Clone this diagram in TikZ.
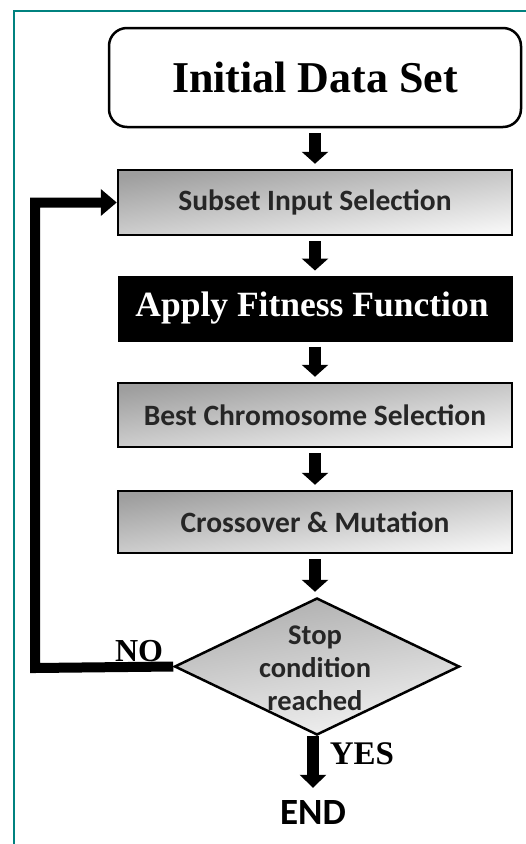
\documentclass[tikz,border=0pt]{standalone}
\usepackage{fontspec}
\setmainfont{Liberation Serif}
\newfontfamily\boxfont{Carlito}
\usetikzlibrary{arrows.meta,shapes.geometric}
\definecolor{frameteal}{HTML}{00827F}
\tikzset{
  flowbox/.style={draw=black, line width=2.5pt, minimum width=394pt, inner sep=0pt,
    top color=black!38, bottom color=black!4, shading angle=8,
    font=\boxfont\bfseries\fontsize{29.5}{33}\selectfont, text=black!85},
  fatarrow/.style={line width=12pt, -{Triangle[width=26pt,length=12pt]},
    shorten <=5pt, shorten >=5pt},
  looparrow/.style={line width=10pt, line join=miter, -{Triangle[width=26pt,length=16pt]}},
  serifbold/.style={font=\bfseries\fontsize{#1}{#1}\selectfont}
}
\begin{document}
\begin{tikzpicture}[x=1pt,y=-1pt]
\useasboundingbox (0,0) rectangle (526,844);
% frame
\draw[frameteal, line width=2pt] (13.5,850) -- (13.5,11) -- (530,11);
% nodes
\node[draw=black, line width=2.5pt, rounded corners=18pt, fill=white,
      minimum width=412pt, minimum height=99pt, inner sep=0pt,
      serifbold=44] (init) at (315,77.5) {Initial Data Set};
\node[flowbox, minimum height=65pt] (subset) at (315,202.5) {Subset Input Selection};
\node[draw=black, fill=black, line width=1pt, minimum width=394pt, minimum height=65pt,
      inner sep=0pt, text=white, serifbold=35.5] (fitness) at (315,308.5) {\hspace*{-6pt}Apply Fitness Function};
\node[flowbox, minimum height=64pt] (best) at (315,415) {Best Chromosome Selection};
\node[flowbox, minimum height=62pt] (cross) at (315,522) {Crossover \& Mutation};
\node[diamond, draw=black, line width=2.5pt, minimum width=285pt, minimum height=137pt,
      inner sep=0pt, top color=black!32, bottom color=black!5, shading angle=10] (stop) at (317,666.5) {};
\node[align=center, font=\boxfont\bfseries\fontsize{28.5}{33}\selectfont, text=black!85,
      inner sep=0pt] (stoptext) at (315,668) {Stop\\condition\\reached};
\node[font=\boxfont\bfseries\fontsize{37}{37}\selectfont, inner sep=0pt] (endn) at (313,812) {END};
\coordinate (loopcorner) at (35,668);
% connectors
\draw[fatarrow] (init) -- (subset);
\draw[fatarrow] (subset) -- (fitness);
\draw[fatarrow] (fitness) -- (best);
\draw[fatarrow] (best) -- (cross);
\draw[fatarrow] (cross.south) -- (cross.south |- stop.north);
\draw[line width=12pt, -{Triangle[width=26pt,length=13pt]}, shorten >=12pt]
  (stop.south -| endn.north) -- (endn.north);
\draw[looparrow] (stop.west) -- (loopcorner) |- (subset.west);
% labels
\node[serifbold=32, inner sep=0pt] (nolabel) at (139,651) {NO};
\node[serifbold=33, inner sep=0pt] (yeslabel) at (362,754) {YES};
\end{tikzpicture}
\end{document}
